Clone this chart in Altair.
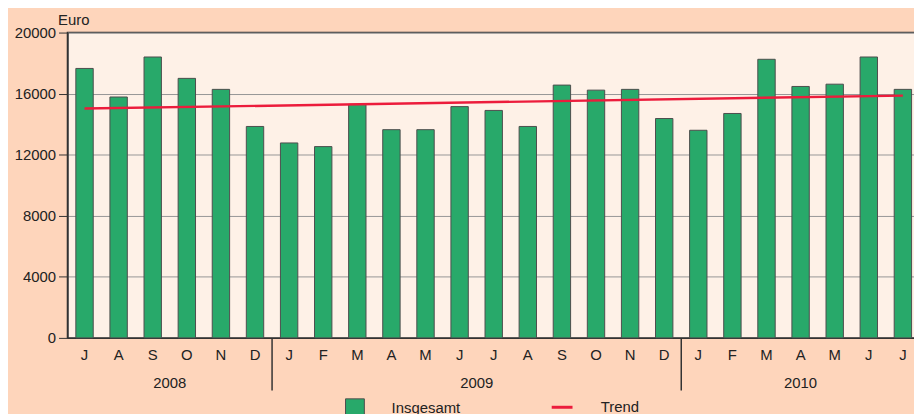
import altair as alt
import pandas as pd

# ---- data ----
periods = ["2008-07", "2008-08", "2008-09", "2008-10", "2008-11", "2008-12",
           "2009-01", "2009-02", "2009-03", "2009-04", "2009-05", "2009-06",
           "2009-07", "2009-08", "2009-09", "2009-10", "2009-11", "2009-12",
           "2010-01", "2010-02", "2010-03", "2010-04", "2010-05", "2010-06",
           "2010-07"]
values = [17650, 15780, 18400, 17000, 16280, 13850,
          12770, 12530, 15300, 13640, 13640, 15150,
          14900, 13850, 16560, 16230, 16280, 14370,
          13600, 14700, 18250, 16470, 16620, 18400,
          16280]
trend_periods = ["2008-07", "2010-07"]
trend_values = [15020, 15870]
years = ["2008", "2009", "2010"]
year_counts = [6, 12, 7]
y_ticks = [0, 4000, 8000, 12000, 16000, 20000]
month_letters = ["J", "F", "M", "A", "M", "J", "J", "A", "S", "O", "N", "D"]

# ---- style ----
BG = "#FED5BB"
PLOT_BG = "#FEF1E7"
GREEN = "#28A96A"
RED = "#EC1C3C"
DARK = "#333333"
TXT = "#222222"
FONT = "Liberation Sans"
W, H = 860, 308

bar_df = pd.DataFrame({"period": periods, "value": values, "series": "Insgesamt"})
trend_df = pd.DataFrame({"period": trend_periods, "value": trend_values, "series": "Trend"})

starts, ends, acc = [], [], 0
for c in year_counts:
    starts.append(acc)
    acc += c
    ends.append(acc)
year_df = pd.DataFrame({"year": years, "center": [(s + e) / 2 for s, e in zip(starts, ends)]})
sep_df = pd.DataFrame({"pos": ends[:-1]})
n = len(periods)

label_expr = "[" + ",".join("'%s'" % m for m in month_letters) + "][toNumber(slice(datum.value, 5)) - 1]"

x_enc = alt.X(
    "period:O",
    scale=alt.Scale(domain=periods, paddingInner=0.49, paddingOuter=0.245),
    axis=alt.Axis(title=None, labelExpr=label_expr, ticks=False, labelAngle=0,
                  labelPadding=10, labelFontSize=15, labelColor=TXT,
                  domainColor=DARK, domainWidth=1.5),
)
y_enc = alt.Y(
    "value:Q",
    scale=alt.Scale(domain=[0, 20000], nice=False),
    axis=alt.Axis(values=y_ticks, format="d", title="Euro", titleAngle=0, titleX=-10, titleY=-8,
                  titleAlign="left", titleBaseline="alphabetic", titleFontSize=15,
                  titleFontWeight="normal", titleColor=TXT, tickSize=9, tickColor=DARK,
                  domainColor=DARK, domainWidth=1.5, labelFontSize=15, labelColor=TXT,
                  labelPadding=3, grid=True, gridColor="#969696", gridWidth=1),
)

bars = alt.Chart(bar_df).mark_bar(stroke="#4d4d4d", strokeWidth=1).encode(
    x=x_enc,
    y=y_enc,
    fill=alt.Fill("series:N",
                  scale=alt.Scale(domain=["Insgesamt"], range=[GREEN]),
                  legend=alt.Legend(orient="none", legendX=280, legendY=369, title=None,
                                    symbolType="square", symbolSize=361,
                                    symbolStrokeColor="#4d4d4d", symbolStrokeWidth=1,
                                    labelFontSize=15, labelOffset=27, labelColor=TXT)),
)

trend = alt.Chart(trend_df).mark_line(strokeWidth=2.5).encode(
    x=alt.X("period:O", scale=alt.Scale(domain=periods)),
    y=alt.Y("value:Q"),
    stroke=alt.Stroke("series:N",
                      scale=alt.Scale(domain=["Trend"], range=[RED]),
                      legend=alt.Legend(orient="none", legendX=487, legendY=366, title=None,
                                        symbolType="stroke", symbolSize=441,
                                        symbolStrokeWidth=3,
                                        labelFontSize=15, labelOffset=27, labelColor=TXT)),
)

inner = alt.layer(bars, trend)

year_text = alt.Chart(year_df).mark_text(fontSize=15, color=TXT, baseline="alphabetic").encode(
    x=alt.X("center:Q", scale=alt.Scale(domain=[0, n]), axis=None),
    y=alt.value(H + 51),
    text="year:N",
)
seps = alt.Chart(sep_df).mark_rule(color=DARK, strokeWidth=1.5).encode(
    x=alt.X("pos:Q", scale=alt.Scale(domain=[0, n]), axis=None),
    y=alt.value(H),
    y2=alt.value(H + 53),
)

chart = alt.layer(inner, year_text, seps).resolve_scale(x="independent").properties(
    width=W, height=H,
    autosize=alt.AutoSizeParams(type="none"),
    padding={"left": 60, "top": 23, "right": -6, "bottom": 75},
    background=BG,
).configure(font=FONT).configure_view(
    fill=PLOT_BG, stroke=DARK, strokeWidth=1.5
)

chart.save("out.html", embed_options={"renderer": "svg", "actions": False})
